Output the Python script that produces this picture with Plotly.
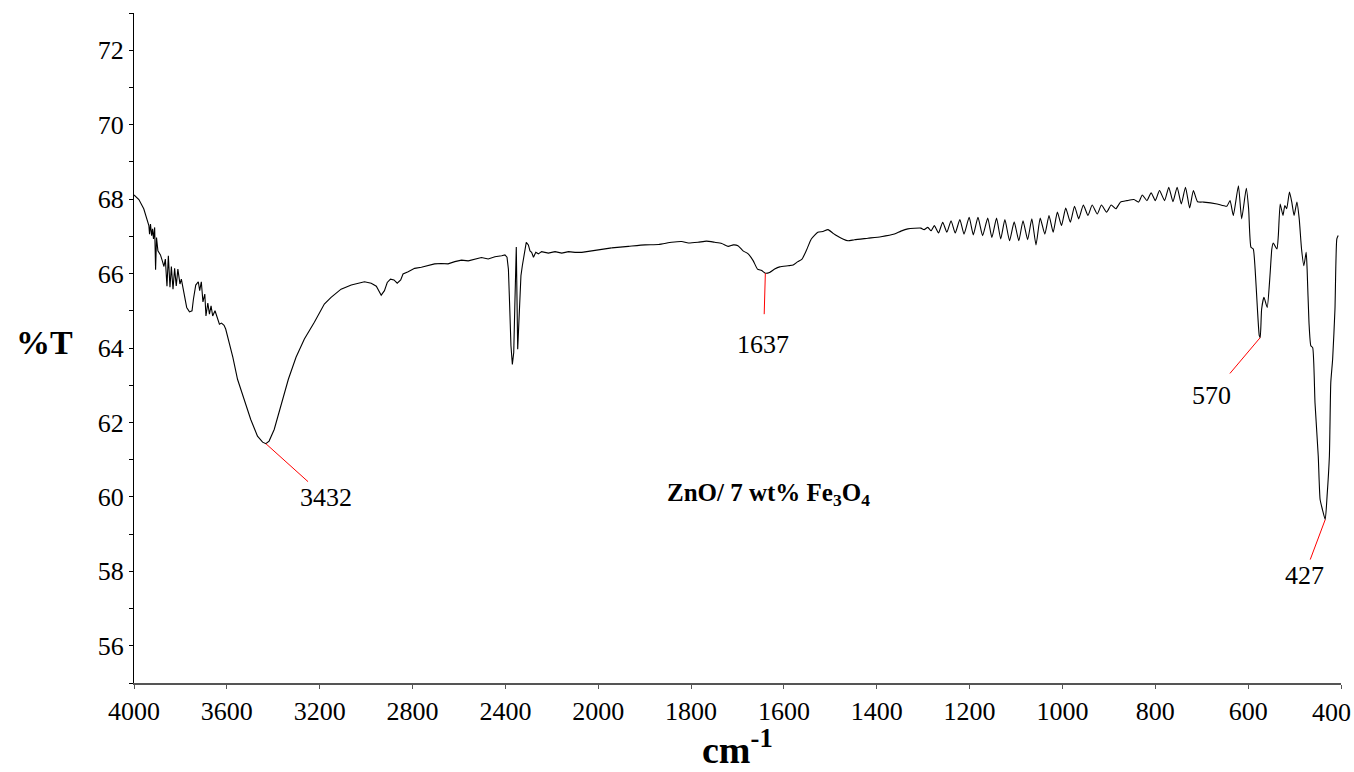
import numpy as np
import plotly.graph_objects as go

# ---------------- data (wavenumber cm-1, %T) ----------------
wn_high = [4000, 3979, 3958, 3940, 3936, 3933, 3929, 3924, 3920, 3916, 3911, 3907, 3903, 3897,
           3886, 3878, 3871, 3865, 3858, 3852, 3845, 3839, 3832, 3825, 3818, 3811, 3802, 3796,
           3785, 3773, 3761, 3750, 3744, 3734, 3723, 3717, 3710, 3703, 3695, 3690, 3682, 3675,
           3668, 3661, 3651, 3644, 3638, 3632, 3623, 3612, 3605, 3595]
t_high = [68.11, 67.99, 67.74, 67.42, 67.29, 67.06, 67.33, 67.02, 67.20, 66.93, 67.24, 66.10,
          66.97, 66.61, 66.50, 66.34, 66.19, 66.39, 65.66, 66.48, 65.63, 66.19, 65.58, 66.14,
          65.67, 66.12, 65.72, 65.85, 65.45, 65.09, 64.97, 65.00, 65.31, 65.69, 65.78, 65.54,
          65.78, 65.24, 65.45, 64.86, 65.21, 64.91, 65.13, 64.86, 65.00, 64.86, 64.78, 64.64,
          64.67, 64.61, 64.51, 64.26]

wn_oh = [3574, 3554, 3526, 3497, 3468, 3446, 3432, 3418, 3396, 3374, 3353, 3335, 3302, 3266,
         3223, 3180, 3151, 3108, 3064, 3007, 2978, 2956, 2935, 2921, 2909, 2895, 2880, 2866,
         2851, 2841, 2819, 2791, 2762, 2733, 2705, 2676, 2647, 2618, 2589, 2560, 2532, 2503,
         2474, 2445, 2416, 2402, 2393, 2387, 2382, 2376, 2370, 2364, 2359, 2353, 2347, 2342,
         2333, 2327, 2318, 2310, 2301, 2294, 2287, 2279, 2269, 2258, 2244, 2215, 2186, 2157,
         2128, 2100, 2071, 2013]
t_oh = [63.75, 63.16, 62.62, 62.08, 61.63, 61.47, 61.43, 61.50, 61.81, 62.31, 62.80, 63.16,
        63.75, 64.24, 64.69, 65.18, 65.36, 65.58, 65.69, 65.78, 65.74, 65.66, 65.42, 65.54,
        65.76, 65.85, 65.83, 65.74, 65.83, 65.99, 66.05, 66.14, 66.17, 66.21, 66.26, 66.27,
        66.26, 66.32, 66.36, 66.34, 66.39, 66.43, 66.39, 66.45, 66.48, 66.50, 66.44, 66.12,
        65.22, 64.06, 63.56, 63.88, 65.22, 66.71, 63.97, 64.69, 65.94, 66.21, 66.61, 66.84,
        66.77, 66.61, 66.57, 66.44, 66.57, 66.53, 66.59, 66.55, 66.59, 66.55, 66.59, 66.57,
        66.57, 66.63]

wn_mid = [1971, 1935, 1899, 1870, 1842, 1820, 1806, 1785, 1767, 1749, 1734, 1720, 1709, 1699,
          1688, 1677, 1666, 1657, 1648, 1640, 1631, 1620, 1609, 1591, 1580, 1570, 1561, 1552,
          1541, 1527, 1516, 1505, 1494, 1484, 1473, 1462, 1448, 1419, 1391, 1362, 1348, 1333,
          1305, 1298, 1290, 1283]
t_mid = [66.69, 66.73, 66.77, 66.78, 66.84, 66.86, 66.82, 66.84, 66.87, 66.84, 66.81, 66.73,
         66.77, 66.75, 66.61, 66.53, 66.34, 66.12, 66.08, 66.01, 66.03, 66.12, 66.18, 66.21,
         66.23, 66.32, 66.39, 66.61, 66.93, 67.11, 67.13, 67.18, 67.08, 67.00, 66.93, 66.88,
         66.91, 66.95, 66.99, 67.06, 67.14, 67.20, 67.22, 67.18, 67.24, 67.15]

wn_low = [1276, 1267, 1258, 1249, 1240, 1231, 1221, 1212, 1201, 1192, 1182, 1172, 1161, 1152,
          1142, 1133, 1124, 1114, 1104, 1094, 1085, 1075, 1066, 1057, 1048, 1038, 1029, 1020,
          1011, 1002, 993, 983, 974, 965, 955, 945, 936, 925, 916, 905, 895, 885, 875, 861,
          846, 836, 828, 818, 809, 800, 791, 780, 771, 762, 753, 744, 735, 726, 718, 709,
          696, 667, 646, 639, 632, 621, 614, 604, 599, 594, 589, 585, 580, 576, 574, 571,
          566, 559, 553, 549, 546, 538, 535, 531, 525, 521, 517, 511, 506, 501, 495, 490,
          485, 480, 475, 473, 469, 465, 461, 456, 449, 445, 440, 434, 430, 425, 422, 418,
          413, 409, 406]
t_low = [67.29, 67.09, 67.38, 67.11, 67.42, 67.09, 67.45, 67.06, 67.51, 67.04, 67.51, 67.02,
         67.49, 66.97, 67.49, 66.93, 67.45, 66.88, 67.39, 66.88, 67.42, 66.91, 67.47, 66.77,
         67.49, 67.06, 67.56, 67.11, 67.65, 67.29, 67.76, 67.38, 67.81, 67.47, 67.84, 67.56,
         67.84, 67.60, 67.84, 67.65, 67.84, 67.74, 67.92, 67.96, 67.99, 67.92, 68.11, 67.96,
         68.17, 67.96, 68.23, 67.96, 68.32, 67.93, 68.32, 67.87, 68.32, 67.76, 68.23, 67.93,
         67.92, 67.87, 67.81, 67.96, 67.56, 68.36, 67.47, 68.29, 67.74, 66.71, 66.66, 66.12,
         65.04, 64.33, 64.28, 65.04, 65.36, 65.09, 65.94, 66.66, 66.82, 66.66, 67.02, 67.87,
         67.56, 67.83, 67.74, 68.19, 67.92, 67.56, 67.92, 67.47, 66.66, 66.21, 66.57, 66.12,
         64.69, 64.06, 64.01, 62.53, 61.10, 59.93, 59.66, 59.39, 60.02, 61.10, 63.07, 63.70,
         65.04, 66.93, 67.02]

tick_wn = [4000, 3600, 3200, 2800, 2400, 2000, 1800, 1600, 1400, 1200, 1000, 800, 600, 400]
tick_text = [str(v) for v in tick_wn]
y_major = [56, 58, 60, 62, 64, 66, 68, 70, 72]
y_minor = [55, 57, 59, 61, 63, 65, 67, 69, 71, 73]

peak_labels = ["3432", "1637", "570", "427"]
peak_wn = [3432, 1640, 574, 434]

sample_label = "<b>ZnO/ 7 wt% Fe<sub>3</sub>O<sub>4</sub></b>"

# ---------------- build ----------------
wn_sharp = np.array(wn_high + wn_oh + wn_mid[:1], dtype=float)
t_sharp = np.array(t_high + t_oh + t_mid[:1], dtype=float)
wn_smooth = np.array(wn_mid + wn_low, dtype=float)
t_smooth = np.array(t_mid + t_low, dtype=float)
wn = np.concatenate([wn_sharp[:-1], wn_smooth])
tt = np.concatenate([t_sharp[:-1], t_smooth])


def to_u(w):
    """Instrument-style scale: 4000-2000 at half the scale of 2000-400."""
    w = np.asarray(w, dtype=float)
    return np.where(w >= 2000, (4000.0 - w) / 400.0, 5.0 + (2000.0 - w) / 200.0)


FONT = "Times New Roman, Liberation Serif, serif"

# the last tick label is drawn separately so it stays inside the right edge (as in the original)
axis_text = tick_text[:-1] + [""]

fig = go.Figure()
fig.add_trace(go.Scatter(x=to_u(wn_sharp), y=t_sharp, mode="lines",
                         line=dict(color="black", width=1.1),
                         hoverinfo="skip", showlegend=False))
fig.add_trace(go.Scatter(x=to_u(wn_smooth), y=t_smooth, mode="lines",
                         line=dict(color="black", width=1.1, shape="spline", smoothing=0.5),
                         hoverinfo="skip", showlegend=False))

annotations = []
offsets = [(60, 54), (-2, 71), (-49, 58), (-21, 56)]
startsoff = [0, 14, 8, 0]
for lab, pw, (ax, ay), ss in zip(peak_labels, peak_wn, offsets, startsoff):
    i = int(np.argmin(np.abs(wn - pw)))
    annotations.append(dict(
        x=float(to_u(wn[i])), y=float(tt[i]), xref="x", yref="y",
        text=lab, showarrow=True, arrowhead=0, arrowwidth=1, arrowcolor="red",
        ax=ax, ay=ay, startstandoff=ss,
        font=dict(family=FONT, size=26, color="black")))

annotations += [
    dict(x=float(to_u(tick_wn[-1])), y=0, xref="x", yref="paper", text=tick_text[-1],
         xanchor="right", yanchor="top", xshift=12, yshift=-13, showarrow=False,
         font=dict(family=FONT, size=26, color="black")),
    dict(x=-0.074, y=0.5075, xref="paper", yref="paper", text="<b>%T</b>",
         xanchor="center", yanchor="middle",
         showarrow=False, font=dict(family=FONT, size=34, color="black")),
    dict(x=0.5, y=-0.134, xref="paper", yref="paper", text="<b>cm<sup>-1</sup></b>",
         xanchor="center", yanchor="bottom",
         showarrow=False, font=dict(family=FONT, size=38, color="black")),
    dict(x=0.526, y=0.281, xref="paper", yref="paper", text=sample_label,
         xanchor="center", yanchor="middle",
         showarrow=False, font=dict(family=FONT, size=25, color="black")),
]

fig.update_layout(
    width=1354, height=772,
    margin=dict(l=134, r=13, t=13, b=89, autoexpand=False),
    paper_bgcolor="white", plot_bgcolor="white",
    font=dict(family=FONT, size=26, color="black"),
    annotations=annotations,
    xaxis=dict(range=[0, 13], tickmode="array", tickvals=to_u(tick_wn).tolist(),
               ticktext=axis_text, ticks="outside", ticklen=4, tickcolor="#555",
               showline=True, linecolor="#555", linewidth=1.5, showgrid=False,
               zeroline=False, automargin=False,
               tickfont=dict(family=FONT, size=26, color="black")),
    yaxis=dict(range=[55, 73], tickmode="array", tickvals=y_major, ticks="outside",
               ticklen=4, tickcolor="black", showline=True, linecolor="black",
               linewidth=1, showgrid=False, zeroline=False, automargin=False,
               minor=dict(tickvals=y_minor, ticks="outside", ticklen=4, tickcolor="black"),
               tickfont=dict(family=FONT, size=26, color="black")),
)

fig.write_html("out.html")
